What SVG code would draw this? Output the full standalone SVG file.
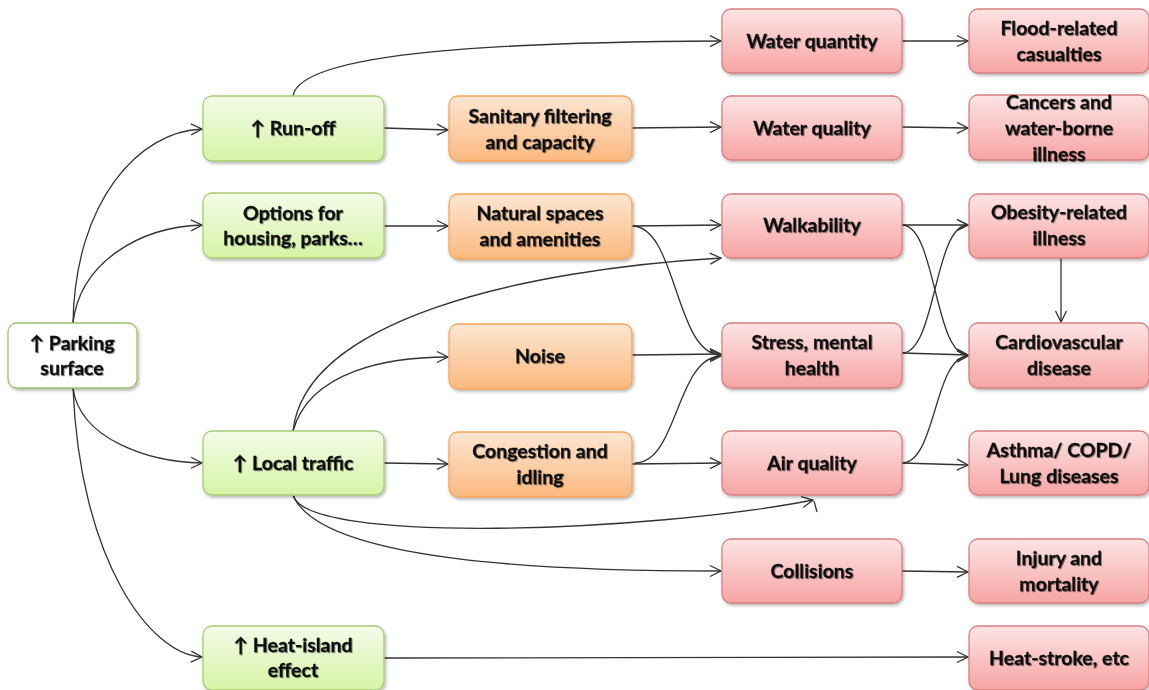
<svg xmlns="http://www.w3.org/2000/svg" width="1149" height="690" viewBox="0 0 1149 690">
  <defs>
    <linearGradient id="gGreen" x1="0" y1="0" x2="0" y2="1">
      <stop offset="0" stop-color="#f4fbe8"/>
      <stop offset="1" stop-color="#d6f4a6"/>
    </linearGradient>
    <linearGradient id="gOrange" x1="0" y1="0" x2="0" y2="1">
      <stop offset="0" stop-color="#fde6d2"/>
      <stop offset="1" stop-color="#fbb97f"/>
    </linearGradient>
    <linearGradient id="gRed" x1="0" y1="0" x2="0" y2="1">
      <stop offset="0" stop-color="#fde4e4"/>
      <stop offset="1" stop-color="#f7a4a4"/>
    </linearGradient>
    <filter id="boxShadow" x="-10%" y="-10%" width="125%" height="130%">
      <feDropShadow dx="1.5" dy="2" stdDeviation="1.5" flood-color="#000" flood-opacity="0.28"/>
    </filter>
    <filter id="textShadow" x="-5%" y="-20%" width="115%" height="150%">
      <feDropShadow dx="1" dy="1" stdDeviation="0.7" flood-color="#000" flood-opacity="0.4"/>
    </filter>
    <marker id="arrow" markerUnits="userSpaceOnUse" markerWidth="14" markerHeight="14" viewBox="-12 -7 14 14" refX="0" refY="0" orient="auto">
      <path d="M-11,-5.5 L0,0 L-11,5.5" fill="none" stroke="#333" stroke-width="1.3"/>
    </marker>
  </defs>
  <style>
    .box { stroke-width: 1.3; filter: url(#boxShadow); }
    .white { fill: #ffffff; stroke: #9cc46a; }
    .green { fill: url(#gGreen); stroke: #a6cc74; }
    .orange { fill: url(#gOrange); stroke: #f6a45a; }
    .red { fill: url(#gRed); stroke: #d77f7f; }
    text { font-family: "Lato", "Liberation Sans", sans-serif; font-weight: 700; font-size: 19.5px; fill: #111; stroke: #111; stroke-width: 0.3; text-anchor: middle; filter: url(#textShadow); }
    .edge { fill: none; stroke: #333; stroke-width: 1.3; marker-end: url(#arrow); }
    .plain { fill: none; stroke: #333; stroke-width: 1.3; }
  </style>

  <!-- connectors -->
  <g id="connectors">
    <path class="edge" d="M73,323 C75,200 140,131 202,129"/>
    <path class="edge" d="M73,323 C80,262 140,227 202,225"/>
    <path class="edge" d="M73,388 C80,440 150,462 202,463"/>
    <path class="edge" d="M73,388 C80,560 150,655 202,657"/>
    <path class="edge" d="M293,96 C300,50 520,42 721,41"/>
    <path class="edge" d="M384,128 L448,130"/>
    <path class="edge" d="M632,128 L721,127"/>
    <path class="edge" d="M902,41 L968,41"/>
    <path class="edge" d="M902,127 L968,128"/>
    <path class="edge" d="M384,226 L448,226"/>
    <path class="edge" d="M632,226 L721,225"/>
    <path class="edge" d="M632,226 C677,226 675,355 721,355"/>
    <path class="edge" d="M293,431 C305,320 520,270 721,258"/>
    <path class="edge" d="M293,431 C310,370 390,357 448,357"/>
    <path class="edge" d="M632,355 L721,354"/>
    <path class="edge" d="M384,463 L448,464"/>
    <path class="edge" d="M632,464 L721,463"/>
    <path class="edge" d="M635,463 C678,463 676,357 721,356"/>
    <path class="edge" d="M293,495 C305,545 650,532 813,500"/>
    <path class="plain" d="M814,501 L817,512"/>
    <path class="edge" d="M293,495 C320,562 550,571 721,571"/>
    <path class="edge" d="M902,571 L968,572"/>
    <path class="edge" d="M384,658 L968,657"/>
    <path class="edge" d="M902,225 L968,225"/>
    <path class="edge" d="M902,225 C936,225 934,355 968,355"/>
    <path class="edge" d="M902,353 C936,353 934,225 968,225"/>
    <path class="edge" d="M902,353 L968,355"/>
    <path class="edge" d="M902,463 C936,463 934,357 968,356"/>
    <path class="edge" d="M902,463 L968,465"/>
    <path class="edge" d="M1061,258 L1061,322"/>
  </g>

  <!-- source -->
  <g id="parking">
    <rect class="box white" x="8" y="323" width="129" height="65" rx="9"/>
    <text x="72" y="350">↑ Parking</text>
    <text x="72" y="375">surface</text>
  </g>

  <!-- first level -->
  <g id="runoff">
    <rect class="box green" x="203" y="96" width="181" height="65" rx="9"/>
    <text x="293" y="135">↑ Run-off</text>
  </g>
  <g id="options">
    <rect class="box green" x="203" y="193" width="181" height="65" rx="9"/>
    <text x="293" y="220">Options for</text>
    <text x="293" y="245">housing, parks…</text>
  </g>
  <g id="localTraffic">
    <rect class="box green" x="203" y="431" width="181" height="64" rx="9"/>
    <text x="293" y="470">↑ Local traffic</text>
  </g>
  <g id="heatIsland">
    <rect class="box green" x="203" y="626" width="181" height="64" rx="9"/>
    <text x="293" y="652">↑ Heat-island</text>
    <text x="293" y="677">effect</text>
  </g>

  <!-- intermediate -->
  <g id="sanitary">
    <rect class="box orange" x="449" y="96" width="183" height="65" rx="9"/>
    <text x="540" y="123">Sanitary filtering</text>
    <text x="540" y="149">and capacity</text>
  </g>
  <g id="natural">
    <rect class="box orange" x="449" y="194" width="183" height="65" rx="9"/>
    <text x="540" y="220">Natural spaces</text>
    <text x="540" y="246">and amenities</text>
  </g>
  <g id="noise">
    <rect class="box orange" x="449" y="324" width="183" height="65" rx="9"/>
    <text x="540" y="363">Noise</text>
  </g>
  <g id="congestion">
    <rect class="box orange" x="449" y="432" width="183" height="65" rx="9"/>
    <text x="540" y="458">Congestion and</text>
    <text x="540" y="484">idling</text>
  </g>

  <!-- environmental factors -->
  <g id="waterQuantity">
    <rect class="box red" x="722" y="9" width="180" height="64" rx="9"/>
    <text x="812" y="48">Water quantity</text>
  </g>
  <g id="waterQuality">
    <rect class="box red" x="722" y="96" width="180" height="64" rx="9"/>
    <text x="812" y="135">Water quality</text>
  </g>
  <g id="walkability">
    <rect class="box red" x="722" y="194" width="180" height="64" rx="9"/>
    <text x="812" y="232">Walkability</text>
  </g>
  <g id="stress">
    <rect class="box red" x="722" y="323" width="180" height="65" rx="9"/>
    <text x="812" y="349">Stress, mental</text>
    <text x="812" y="375">health</text>
  </g>
  <g id="airQuality">
    <rect class="box red" x="722" y="431" width="180" height="64" rx="9"/>
    <text x="812" y="470">Air quality</text>
  </g>
  <g id="collisions">
    <rect class="box red" x="722" y="539" width="180" height="64" rx="9"/>
    <text x="812" y="578">Collisions</text>
  </g>

  <!-- health outcomes -->
  <g id="flood">
    <rect class="box red" x="969" y="9" width="180" height="64" rx="9"/>
    <text x="1059" y="35">Flood-related</text>
    <text x="1059" y="61">casualties</text>
  </g>
  <g id="cancers">
    <rect class="box red" x="969" y="95" width="180" height="65" rx="9"/>
    <text x="1059" y="109">Cancers and</text>
    <text x="1059" y="135">water-borne</text>
    <text x="1059" y="161">illness</text>
  </g>
  <g id="obesity">
    <rect class="box red" x="969" y="194" width="180" height="64" rx="9"/>
    <text x="1059" y="219">Obesity-related</text>
    <text x="1059" y="245">illness</text>
  </g>
  <g id="cardio">
    <rect class="box red" x="969" y="323" width="180" height="65" rx="9"/>
    <text x="1059" y="349">Cardiovascular</text>
    <text x="1059" y="375">disease</text>
  </g>
  <g id="asthma">
    <rect class="box red" x="969" y="431" width="180" height="64" rx="9"/>
    <text x="1059" y="457">Asthma/ COPD/</text>
    <text x="1059" y="483">Lung diseases</text>
  </g>
  <g id="injury">
    <rect class="box red" x="969" y="539" width="180" height="64" rx="9"/>
    <text x="1059" y="565">Injury and</text>
    <text x="1059" y="591">mortality</text>
  </g>
  <g id="heatStroke">
    <rect class="box red" x="969" y="626" width="180" height="64" rx="9"/>
    <text x="1059" y="665">Heat-stroke, etc</text>
  </g>
</svg>
